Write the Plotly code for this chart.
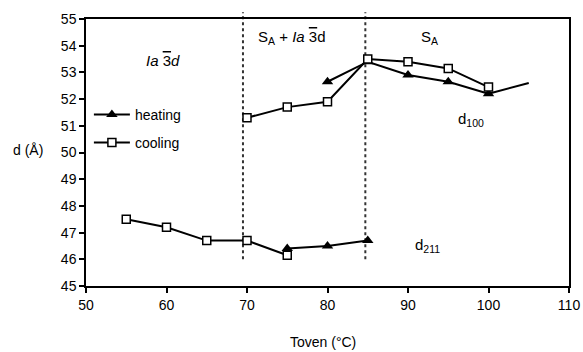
import plotly.graph_objects as go

# Data
heat_d211_x = [75, 80, 85]
heat_d211_y = [46.4, 46.5, 46.7]
heat_d100_x = [80, 85, 90, 95, 100]
heat_d100_y = [52.65, 53.4, 52.9, 52.65, 52.2]
heat_tail_x = [100, 105]
heat_tail_y = [52.2, 52.6]
cool_d211_x = [55, 60, 65, 70, 75]
cool_d211_y = [47.5, 47.2, 46.7, 46.7, 46.15]
cool_d100_x = [70, 75, 80, 85, 90, 95, 100]
cool_d100_y = [51.3, 51.7, 51.9, 53.5, 53.4, 53.15, 52.45]
phase_bounds = [69.5, 84.7]
x_ticks = [50, 60, 70, 80, 90, 100, 110]
y_ticks = [45, 46, 47, 48, 49, 50, 51, 52, 53, 54, 55]
x_range = [50, 110]
y_range = [45, 55]

FONT = "Liberation Sans"
tri = dict(symbol="triangle-up", size=10, color="black")
sq = dict(symbol="square", size=8, color="white", line=dict(color="black", width=1.5))
ln = dict(color="black", width=2)

fig = go.Figure()
fig.add_trace(go.Scatter(x=heat_tail_x, y=heat_tail_y, mode="lines", line=ln, showlegend=False))
fig.add_trace(go.Scatter(x=heat_d211_x, y=heat_d211_y, mode="lines+markers", line=ln,
                         marker=tri, name="heating", showlegend=True, legend="legend"))
fig.add_trace(go.Scatter(x=heat_d100_x, y=heat_d100_y, mode="lines+markers", line=ln,
                         marker=tri, showlegend=False))
fig.add_trace(go.Scatter(x=cool_d211_x, y=cool_d211_y, mode="lines+markers", line=ln,
                         marker=sq, name="cooling", showlegend=True, legend="legend2"))
fig.add_trace(go.Scatter(x=cool_d100_x, y=cool_d100_y, mode="lines+markers", line=ln,
                         marker=sq, showlegend=False))

for b in phase_bounds:
    xp = (b - x_range[0]) / (x_range[1] - x_range[0])
    y0p = (46.0 - y_range[0]) / (y_range[1] - y_range[0])
    fig.add_shape(type="line", xref="paper", yref="paper", x0=xp, x1=xp, y0=y0p, y1=1.025,
                  line=dict(color="#333", width=2, dash="dot"), layer="below")

bar3 = '<span style="text-decoration:overline">3</span>'
ann = [
    ("<i>Ia</i> " + bar3 + "<i>d</i>", 59.6, 53.45, 15),
    ("S<sub>A</sub> + <i>Ia</i> " + bar3 + "d", 75.65, 54.3, 15),
    ("S<sub>A</sub>", 92.7, 54.3, 15),
    ("d<sub>100</sub>", 97.8, 51.25, 15),
    ("d<sub>211</sub>", 92.4, 46.5, 15),
]
for t, x, y, s in ann:
    fig.add_annotation(text=t, x=x, y=y, xref="x", yref="y", showarrow=False,
                       xanchor="center", yanchor="middle",
                       font=dict(family=FONT, size=s, color="black"))

fig.add_annotation(text="d (Å)", x=-0.12, y=0.51, xref="paper", yref="paper", showarrow=False,
                   xanchor="center", yanchor="middle",
                   font=dict(family=FONT, size=14, color="black"))
fig.add_annotation(text="Toven (°C)", x=0.49, y=-0.21, xref="paper", yref="paper", showarrow=False,
                   xanchor="center", yanchor="middle",
                   font=dict(family=FONT, size=14, color="black"))

axis_common = dict(showline=True, linecolor="black", linewidth=1.5, mirror=True,
                   ticks="outside", ticklen=5, tickwidth=1.5, tickcolor="black",
                   showgrid=False, zeroline=False,
                   tickfont=dict(family=FONT, size=14, color="black"))
fig.update_xaxes(range=x_range, tickvals=x_ticks, **axis_common)
fig.update_yaxes(range=y_range, tickvals=y_ticks, **axis_common)

leg = dict(xanchor="left", yanchor="middle", bgcolor="rgba(0,0,0,0)",
           font=dict(family=FONT, size=14, color="black"), itemwidth=36)
fig.update_layout(
    width=583, height=352,
    margin=dict(l=86, r=14, t=19, b=66, autoexpand=False),
    plot_bgcolor="white", paper_bgcolor="white",
    legend=dict(x=0.006, y=(286 - 115) / 267, **leg),
    legend2=dict(x=0.006, y=(286 - 143) / 267, **leg),
    showlegend=True,
)
fig.write_html("out.html", config={"displayModeBar": False},
               post_script="document.body.style.margin='0px';")
